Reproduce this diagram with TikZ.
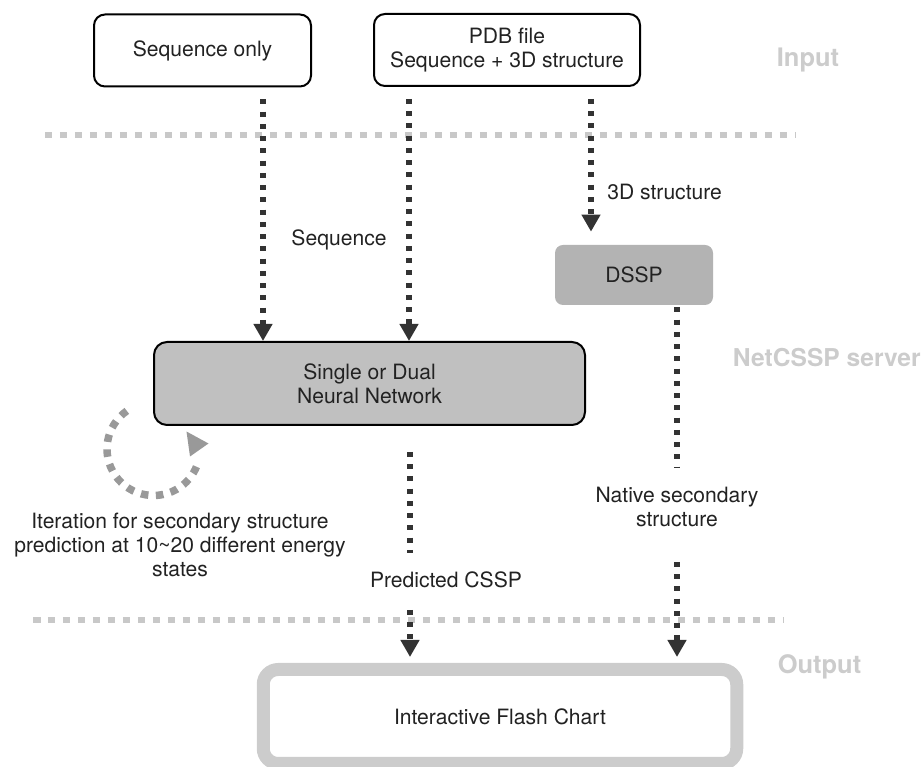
\documentclass[tikz,border=0pt]{standalone}
\usepackage{fontspec}
\setmainfont{TeX Gyre Heros}
\usetikzlibrary{arrows.meta, calc, positioning}
\definecolor{inkgray}{RGB}{34, 34, 34}
\definecolor{flowgray}{RGB}{51, 51, 51}
\definecolor{sepgray}{RGB}{200, 200, 200}
\definecolor{tiergray}{RGB}{204, 204, 204}
\definecolor{netfill}{RGB}{192, 192, 192}
\definecolor{dsspfill}{RGB}{179, 179, 179}
\definecolor{loopgray}{RGB}{153, 153, 153}
\newcommand{\boxfont}{\fontsize{12}{13.5}\selectfont}
\newcommand{\tierfont}{\fontsize{14.5}{16}\selectfont\bfseries}

\tikzset{
  inbox/.style={draw=black, line width=0.04cm, rounded corners=0.22cm,
    fill=white, align=center, font=\boxfont, text=inkgray, inner sep=0pt,
    minimum height=1.44cm},
  netbox/.style={draw=black, line width=0.04cm, rounded corners=0.26cm,
    fill=netfill, align=center, font=\boxfont, text=inkgray, inner sep=0pt,
    minimum width=8.62cm, minimum height=1.66cm},
  dsspbox/.style={fill=dsspfill, rounded corners=0.16cm, font=\boxfont,
    text=inkgray, inner sep=0pt, minimum width=3.16cm, minimum height=1.2cm},
  outbox/.style={draw=tiergray, line width=0.26cm, rounded corners=0.3cm,
    fill=white, font=\boxfont, text=inkgray, inner sep=0pt,
    minimum width=9.47cm, minimum height=1.88cm},
  flowlbl/.style={font=\boxfont, text=inkgray, align=center, inner sep=0pt},
  tierlbl/.style={font=\tierfont, text=tiergray, inner sep=0pt},
  separator/.style={sepgray, line width=0.135cm, dash pattern=on 0.15cm off 0.15cm},
  flowline/.style={flowgray, line width=0.11cm, dash pattern=on 0.1cm off 0.145cm},
  flowarrow/.style={flowline, -{Triangle[length=0.34cm, width=0.36cm]}},
  loopline/.style={loopgray, line width=0.15cm, dash pattern=on 0.15cm off 0.15cm}
}

\begin{document}
\begin{tikzpicture}
  \useasboundingbox (0,0) rectangle (18.44,15.34);
  %--- tier separators and labels -------------------------------------------
  \draw[separator] (0.9,12.64) -- (15.9,12.64);
  \draw[separator] (0.66,2.94) -- (15.66,2.94);
  \node[tierlbl] (inlbl) at (16.16,14.14) {Input};
  \node[tierlbl, anchor=east, font=\fontsize{14}{16}\selectfont\bfseries]
    (srvlbl) at (18.42,8.18) {NetCSSP server};
  \node[tierlbl] (outlbl) at (16.39,2.0) {Output};
  %--- input boxes -----------------------------------------------------------
  \node[inbox, minimum width=4.34cm] (seqbox) at (4.05,14.33) {Sequence only};
  \node[inbox, minimum width=5.32cm] (pdbbox) at (10.14,14.34)
    {PDB file\\Sequence + 3D structure};
  %--- server ----------------------------------------------------------------
  \node[netbox] (netbox) at (7.39,7.67) {Single or Dual\\Neural Network};
  \node[dsspbox] (dssp) at (12.68,9.84) {DSSP};
  %--- output ----------------------------------------------------------------
  \node[outbox] (chart) at (10.0,1.01) {Interactive Flash Chart};
  %--- labels on the flows ---------------------------------------------------
  \node[flowlbl] (seqlbl) at (6.78,10.54) {Sequence};
  \node[flowlbl, anchor=west] (strlbl) at (12.14,11.5) {3D structure};
  \node[flowlbl] (nativelbl) at (13.54,5.2) {Native secondary\\structure};
  \node[flowlbl] (predlbl) at (8.92,3.74) {Predicted CSSP};
  \node[flowlbl] (iterlbl) at (3.6,4.44)
    {Iteration for secondary structure\\prediction at 10\textasciitilde20 different energy\\states};
  %--- flows -----------------------------------------------------------------
  \draw[flowarrow] ([xshift=1.21cm, yshift=-0.24cm]seqbox.south) coordinate (s1)
    -- (s1 |- netbox.north);
  \draw[flowarrow] ([xshift=-1.96cm, yshift=-0.24cm]pdbbox.south) coordinate (s2)
    -- (s2 |- netbox.north);
  \draw[flowarrow, shorten >=0.26cm] ([xshift=1.68cm, yshift=-0.24cm]pdbbox.south)
    coordinate (s3) -- (s3 |- dssp.north);
  % native structure path
  \coordinate (nbreak1) at (13.54,5.98);
  \coordinate (nbreak2) at (13.54,4.10);
  \draw[flowline] ([yshift=-0.04cm]dssp.south -| nbreak1) -- (nbreak1);
  \draw[flowarrow, shorten >=0.12cm] (nbreak2) -- (nbreak2 |- chart.north);
  % predicted path
  \coordinate (pbreak1) at (8.2,4.28);
  \coordinate (pbreak2) at (8.2,3.14);
  \draw[flowline] ([yshift=-0.52cm]netbox.south -| pbreak1) -- (pbreak1);
  \draw[flowarrow, shorten >=0.12cm] (pbreak2) -- (pbreak2 |- chart.north);
  %--- iteration loop --------------------------------------------------------
  \draw[loopline] (3.07,6.36) ++(125:0.93) arc[start angle=125, end angle=344, radius=0.93];
  \fill[loopgray] (3.73,6.71) -- (3.80,6.21) -- (4.17,6.47) -- cycle;
\end{tikzpicture}
\end{document}
